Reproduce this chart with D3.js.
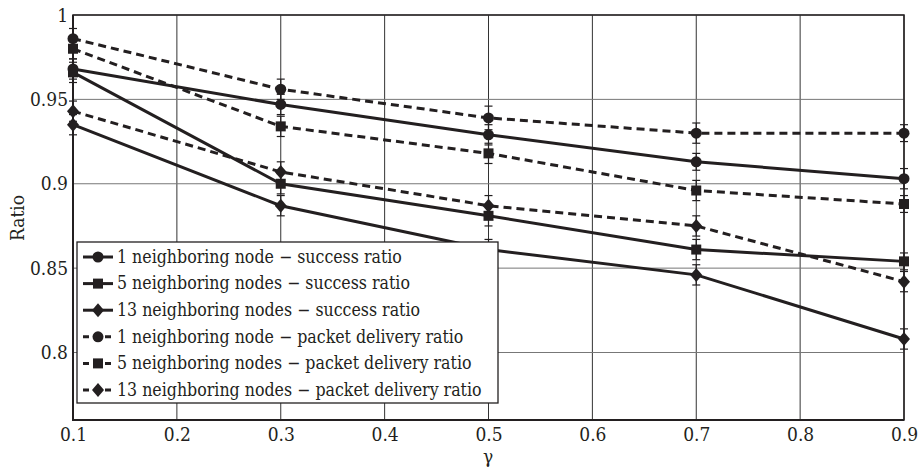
<!DOCTYPE html>
<html><head><meta charset="utf-8">
<script src="https://cdn.jsdelivr.net/npm/d3@7"></script>
<style>body{margin:0;background:#fff}svg{display:block}svg text{font-stretch:condensed}</style>
</head><body><svg id="c" width="920" height="467"></svg>
<script>
const gammas = [0.1, 0.3, 0.5, 0.7, 0.9];
const xTicks = [0.1,0.2,0.3,0.4,0.5,0.6,0.7,0.8,0.9];
const yTicks = [0.8,0.85,0.9,0.95,1];
const yTickLabels = ["0.8","0.85","0.9","0.95","1"];
const seriesNames = [
  "1 neighboring node \u2212 success ratio",
  "5 neighboring nodes \u2212 success ratio",
  "13 neighboring nodes \u2212 success ratio",
  "1 neighboring node \u2212 packet delivery ratio",
  "5 neighboring nodes \u2212 packet delivery ratio",
  "13 neighboring nodes \u2212 packet delivery ratio"
];
const succ1 = [0.968, 0.947, 0.929, 0.913, 0.903];
const succ5 = [0.966, 0.900, 0.881, 0.861, 0.854];
const succ13 = [0.935, 0.887, 0.861, 0.846, 0.808];
const pdr1 = [0.986, 0.956, 0.939, 0.930, 0.930];
const pdr5 = [0.980, 0.934, 0.918, 0.896, 0.888];
const pdr13 = [0.943, 0.907, 0.887, 0.875, 0.842];
const err1 = [0.006, 0.006, 0.006, 0.005, 0.006];
const err5 = [0.006, 0.006, 0.006, 0.006, 0.005];
const err13 = [0.006, 0.006, 0.006, 0.006, 0.006];
const errP1 = [0.006, 0.006, 0.007, 0.006, 0.005];
const errP5 = [0.006, 0.006, 0.006, 0.006, 0.005];
const errP13 = [0.006, 0.006, 0.006, 0.006, 0.006];
const markers = ["circle","square","diamond","circle","square","diamond"];
const dashed = [false,false,false,true,true,true];

const series = [succ1,succ5,succ13,pdr1,pdr5,pdr13];
const errs = [err1,err5,err13,errP1,errP5,errP13];

const ink = "#231f20";
const FONT = '"DejaVu Serif Condensed","DejaVu Serif",serif';
const svg = d3.select("#c");
const L=73, R=904, T=15, B=420;
const x = d3.scaleLinear().domain([0.1,0.9]).range([L,R]);
const y = d3.scaleLinear().domain([0.76,1]).range([B,T]);

svg.append("g").selectAll("line").data(xTicks).join("line")
  .attr("x1",d=>x(d)).attr("x2",d=>x(d)).attr("y1",T).attr("y2",B)
  .attr("stroke","#333").attr("stroke-width",1);
svg.append("g").selectAll("line").data(yTicks).join("line")
  .attr("x1",L).attr("x2",R).attr("y1",d=>y(d)).attr("y2",d=>y(d))
  .attr("stroke","#777").attr("stroke-width",1);

svg.append("rect").attr("x",L).attr("y",T).attr("width",R-L).attr("height",B-T)
  .attr("fill","none").attr("stroke",ink).attr("stroke-width",1.5);
svg.append("line").attr("x1",L).attr("x2",L).attr("y1",T).attr("y2",B+1).attr("stroke",ink).attr("stroke-width",2);
svg.append("line").attr("x1",L-1).attr("x2",R).attr("y1",B).attr("y2",B).attr("stroke",ink).attr("stroke-width",2);

const xAxis = svg.append("g").attr("transform",`translate(0,${B})`)
  .call(d3.axisBottom(x).tickValues(xTicks).tickSize(0).tickPadding(8).tickFormat(d3.format(".1f")));
xAxis.attr("font-family",FONT).attr("font-size",19);
xAxis.select(".domain").remove();
xAxis.selectAll("text").attr("fill",ink);
const yAxis = svg.append("g").attr("transform",`translate(${L},0)`)
  .call(d3.axisLeft(y).tickValues(yTicks).tickSize(0).tickPadding(5).tickFormat((d,i)=>yTickLabels[i]));
yAxis.attr("font-family",FONT).attr("font-size",19);
yAxis.select(".domain").remove();
yAxis.selectAll("text").attr("fill",ink);

svg.append("text").attr("x",488).attr("y",463).attr("text-anchor","middle").attr("font-size",19).attr("font-family",FONT).attr("fill",ink).text("\u03b3");
svg.append("text").attr("transform","translate(24,218) rotate(-90)").attr("text-anchor","middle").attr("font-size",19).attr("font-family",FONT).attr("fill",ink).text("Ratio");

function drawMarker(g, type, cx, cy){
  if(type==="circle") g.append("circle").attr("cx",cx).attr("cy",cy).attr("r",5.5).attr("fill",ink);
  else if(type==="square") g.append("rect").attr("x",cx-5).attr("y",cy-5).attr("width",10).attr("height",10).attr("fill",ink);
  else g.append("path").attr("d",`M${cx},${cy-7}L${cx+6},${cy}L${cx},${cy+7}L${cx-6},${cy}Z`).attr("fill",ink);
}

const line = d3.line().x((d,i)=>x(gammas[i])).y(d=>y(d));
series.forEach((s,k)=>{
  const g = svg.append("g");
  g.append("path").datum(s).attr("d",line).attr("fill","none").attr("stroke",ink)
    .attr("stroke-width",3).attr("stroke-dasharray",dashed[k]?"8,5":null);
  s.forEach((v,i)=>{
    const cx=x(gammas[i]), e=errs[k][i];
    g.append("line").attr("x1",cx).attr("x2",cx).attr("y1",y(v-e)).attr("y2",y(v+e)).attr("stroke",ink).attr("stroke-width",1.2);
    [v-e,v+e].forEach(w=>g.append("line").attr("x1",cx-4).attr("x2",cx+4).attr("y1",y(w)).attr("y2",y(w)).attr("stroke",ink).attr("stroke-width",1.2));
    drawMarker(g, markers[k], cx, y(v));
  });
});

const lg = svg.append("g");
lg.append("rect").attr("x",77).attr("y",242).attr("width",421).attr("height",161).attr("fill","#fff").attr("stroke",ink).attr("stroke-width",1.3);
seriesNames.forEach((n,k)=>{
  const cy = 257 + k*26.6;
  lg.append("line").attr("x1",83).attr("x2",113).attr("y1",cy).attr("y2",cy).attr("stroke",ink).attr("stroke-width",3)
    .attr("stroke-dasharray",dashed[k]?"6,5":null);
  drawMarker(lg, markers[k], 98, cy);
  lg.append("text").attr("x",117).attr("y",cy).attr("dy","0.33em").attr("font-size",17.6).attr("font-family",FONT).attr("fill",ink).text(n);
});
</script></body></html>
